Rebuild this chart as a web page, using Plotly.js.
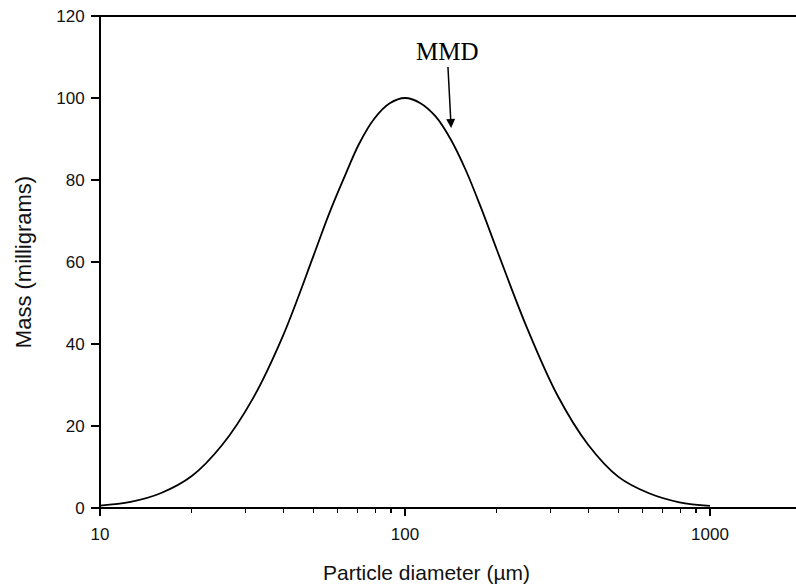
<!DOCTYPE html>
<html>
<head>
<meta charset="utf-8">
<script src="https://cdn.plot.ly/plotly-3.0.1.min.js"></script>
<style>html,body{margin:0;padding:0;background:#fff;overflow:hidden;}#chart{width:796px;height:588px;}</style>
</head>
<body>
<div id="chart"></div>
<script>
// Particle diameter (µm) and mass (mg)
const diameter = [10, 12.6, 15.8, 20, 25.1, 31.6, 39.8, 50.1, 56.2, 63.1, 70.8, 79.4, 89.1, 100, 112, 126, 141, 158, 178, 200, 251, 316, 398, 501, 631, 794, 1000];
const mass     = [0.6, 1.5, 3.6, 7.8, 15.3, 26.5, 42.0, 61.5, 71.5, 80.5, 88.9, 95.0, 98.7, 100.0, 98.8, 95.5, 90.0, 82.5, 73.0, 63.0, 44.0, 27.5, 15.5, 7.6, 3.6, 1.4, 0.5];
const xTickVals = [10, 100, 1000];
const xTickText = ["10", "100", "1000"];
const xMinorVals = [20, 30, 40, 50, 60, 70, 80, 90, 200, 300, 400, 500, 600, 700, 800, 900];
const yTickVals = [0, 20, 40, 60, 80, 100, 120];
const xTitle = "Particle diameter (µm)";
const yTitle = "Mass (milligrams)";
const annotationText = "MMD";

const trace = {
  x: diameter, y: mass, type: 'scatter', mode: 'lines',
  line: {color: '#000', width: 1.8, shape: 'spline', smoothing: 1},
  hoverinfo: 'skip'
};

const frameLine = {color: '#000', width: 2};

const layout = {
  width: 796, height: 588,
  margin: {l: 100, r: 0, t: 16, b: 80},
  paper_bgcolor: '#fff', plot_bgcolor: '#fff',
  showlegend: false,
  font: {family: 'Liberation Sans, Arial, sans-serif', color: '#111'},
  xaxis: {
    type: 'log', range: [1, 1 + 696 / 305],
    tickmode: 'array', tickvals: xTickVals, ticktext: xTickText,
    ticks: 'outside', ticklen: 7, tickwidth: 1.5, tickcolor: '#000',
    minor: {tickmode: 'array', tickvals: xMinorVals, ticks: 'outside', ticklen: 4, tickwidth: 1.2, tickcolor: '#000', showgrid: false},
    showline: false,
    showgrid: false, zeroline: false,
    ticklabelstandoff: 4,
    tickfont: {size: 17, color: '#111'}
  },
  yaxis: {
    range: [0, 120],
    tickmode: 'array', tickvals: yTickVals,
    ticks: 'outside', ticklen: 8, tickwidth: 1.5, tickcolor: '#000',
    showline: false,
    showgrid: false, zeroline: false,
    ticklabelstandoff: 3,
    tickfont: {size: 17, color: '#111'},
    title: {text: yTitle, font: {size: 22, color: '#111'}, standoff: 18}
  },
  shapes: [
    {type: 'line', xref: 'paper', yref: 'paper', layer: 'above', x0: 0, x1: 1.05, y0: 1, y1: 1, line: frameLine},
    {type: 'line', xref: 'paper', yref: 'paper', layer: 'above', x0: 0, x1: 1.05, y0: 0, y1: 0, line: frameLine},
    {type: 'line', xref: 'paper', yref: 'paper', layer: 'above', x0: 0, x1: 0, y0: -0.002, y1: 1.002, line: frameLine}
  ],
  annotations: [{
    xref: 'x', yref: 'y', x: Math.log10(141.7), y: 92.7,
    text: annotationText, showarrow: true,
    ax: -4, ay: -76, arrowhead: 2, arrowsize: 1.2, arrowwidth: 1.5, arrowcolor: '#000',
    font: {family: 'Liberation Serif, Times New Roman, serif', size: 25, color: '#000'}
  }, {
    xref: 'paper', yref: 'paper', x: 326 / 696, y: -64 / 492,
    xanchor: 'center', yanchor: 'middle', showarrow: false,
    text: xTitle, font: {size: 21, color: '#111'}
  }]
};

Plotly.newPlot('chart', [trace], layout, {displayModeBar: false, staticPlot: true});
</script>
</body>
</html>
